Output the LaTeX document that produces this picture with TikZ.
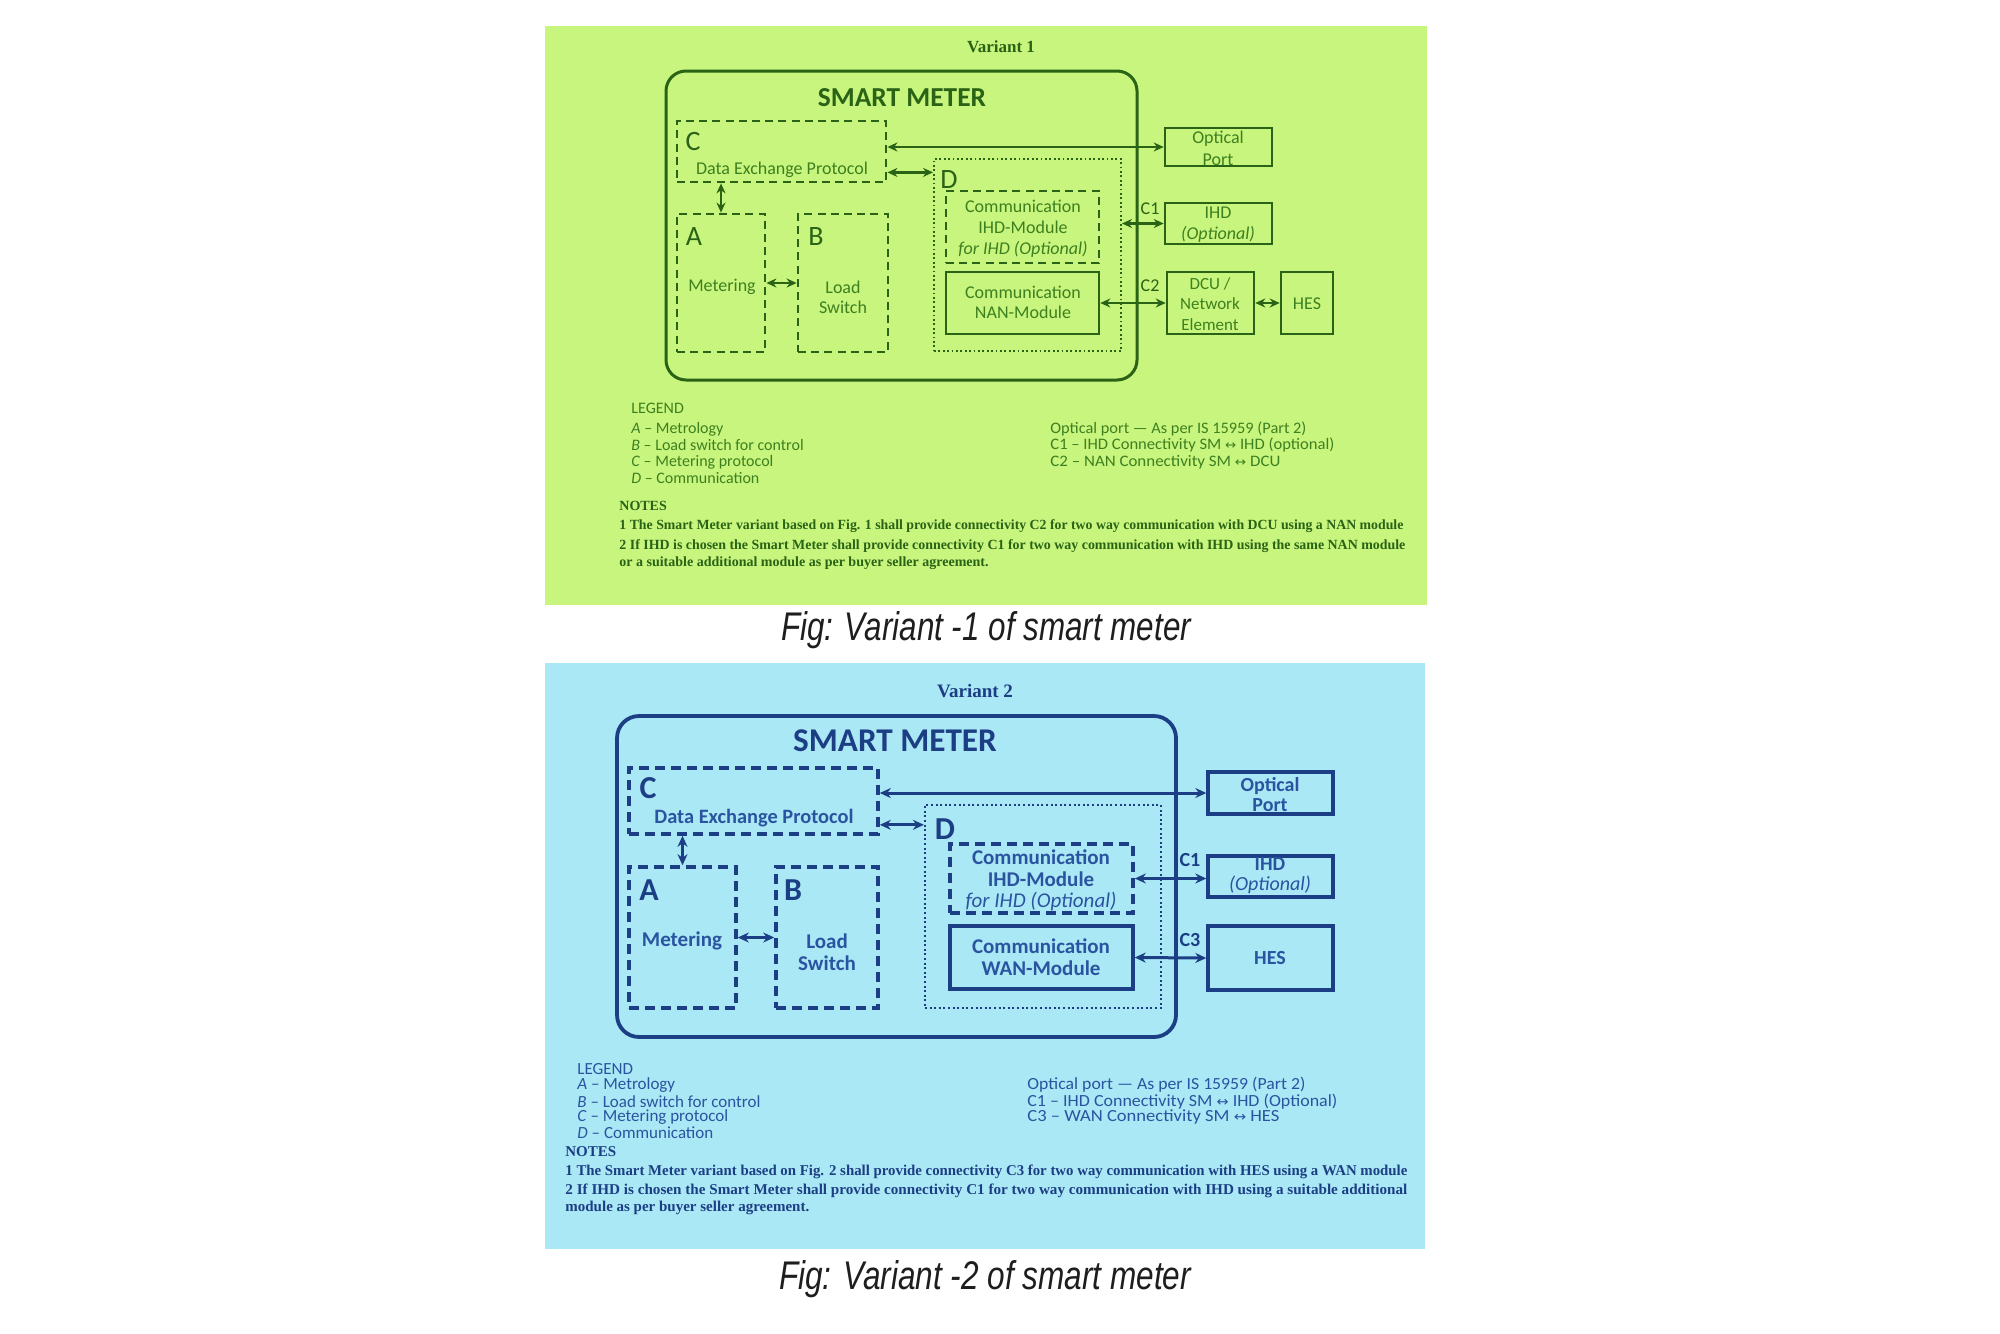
\documentclass[tikz,border=0pt]{standalone}
\usepackage{fontspec}
\usepackage{graphicx}
\setmainfont{Carlito}
\newfontfamily\serifnote{Liberation Serif}
\newfontfamily\capfont{Liberation Sans}
\newfontfamily\djv{DejaVu Sans}
\usetikzlibrary{arrows.meta,fit,calc}
\newcommand{\fw}[2]{\resizebox{#1}{\height}{#2}}
\newcommand{\lra}{{\djv\scalebox{0.8}{↔}}}
\definecolor{gbg}{RGB}{199,245,125}
\definecolor{gline}{RGB}{42,98,22}
\definecolor{gtxt}{RGB}{62,128,32}
\definecolor{bbg}{RGB}{170,232,246}
\definecolor{bline}{RGB}{28,62,132}
\definecolor{btxt}{RGB}{42,84,160}
\definecolor{capc}{RGB}{30,30,30}
\tikzset{
  lbl/.style={inner sep=0pt, anchor=center},
  lgd/.style={inner sep=0pt, anchor=west},
  outerbox1/.style={draw, line width=1.5pt, rounded corners=10pt, inner sep=0pt},
  dashbox1/.style={draw, line width=1.4pt, dash pattern=on 4pt off 2.6pt, inner sep=0pt},
  dotbox1/.style={draw, line width=1pt, dash pattern=on 0.9pt off 1.3pt, inner sep=0pt},
  solidbox1/.style={draw, line width=1.3pt, inner sep=0pt},
  conn1/.style={{Stealth[length=5pt,width=4.5pt]}-{Stealth[length=5pt,width=4.5pt]}, line width=1.25pt},
  outerbox2/.style={draw, line width=1.9pt, rounded corners=11pt, inner sep=0pt},
  dashbox2/.style={draw, line width=1.8pt, dash pattern=on 5pt off 3pt, inner sep=0pt},
  dotbox2/.style={draw, line width=1.1pt, dash pattern=on 1pt off 1.3pt, inner sep=0pt},
  solidbox2/.style={draw, line width=1.7pt, inner sep=0pt},
  conn2/.style={{Stealth[length=5.5pt,width=5pt]}-{Stealth[length=5.5pt,width=5pt]}, line width=1.5pt},
  captext/.style={inner sep=0pt, text=capc, font=\capfont\itshape\fontsize{20}{20}\selectfont},
}
\begin{document}
\begin{tikzpicture}[x=0.5pt,y=-0.5pt]
\useasboundingbox (0,0) rectangle (2000,1333);
\fill[white] (0,0) rectangle (2000,1333);

%% ================= VARIANT 1 =================
\fill[gbg] (545,26) rectangle (1427,605);
\begin{scope}[color=gline]
\node[lbl, font=\serifnote\bfseries\fontsize{8.5}{9}\selectfont] (T1) at (1001,47) {Variant 1};
\node[outerbox1, fit={(666,71) (1137,380)}] (SM1) {};
\node[lbl, font=\bfseries\fontsize{13.7}{14}\selectfont] (SMt1) at (902,98) {SMART METER};
% C
\node[dashbox1, fit={(677,121) (886,182)}] (C1) {};
\node[lbl, font=\fontsize{14}{14}\selectfont] (Cl1) at (693,142) {C};
\node[lbl, text=gtxt, font=\fontsize{9}{9}\selectfont] (Ct1) at (782,170) {Data Exchange Protocol};
% A
\node[dashbox1, fit={(677,214) (765,352)}] (A1) {};
\node[lbl, font=\fontsize{14}{14}\selectfont] (Al1) at (694,237) {A};
\node[lbl, text=gtxt, font=\fontsize{9}{9}\selectfont] (At1) at (722,287) {Metering};
% B
\node[dashbox1, fit={(798,214) (888,352)}] (B1) {};
\node[lbl, font=\fontsize{14}{14}\selectfont] (Bl1) at (816,237) {B};
\node[lbl, text=gtxt, align=center, font=\fontsize{9}{10}\selectfont] (Bt1) at (843,297) {Load\\Switch};
% D
\node[dotbox1, fit={(934,159) (1121,351)}] (D1) {};
\node[lbl, font=\fontsize{14}{14}\selectfont] (Dl1) at (949,180) {D};
\node[dashbox1, fit={(946,191) (1099,263)}] (IM1) {};
\node[lbl, text=gtxt, align=center, font=\fontsize{9}{10.5}\selectfont] (IMt1) at (1023,228.5) {Communication\\IHD-Module\\\textit{for IHD (Optional)}};
\node[solidbox1, fit={(946,272) (1099,334)}] (W1) {};
\node[lbl, text=gtxt, align=center, font=\fontsize{9}{10}\selectfont] (Wt1) at (1023,302) {Communication\\NAN-Module};
% external
\node[solidbox1, fit={(1165,128) (1272,166)}] (OP1) {};
\node[lbl, text=gtxt, align=center, font=\fontsize{9}{11}\selectfont] (OPt1) at (1218,148) {Optical\\Port};
\node[solidbox1, fit={(1165,203) (1272,244)}] (IH1) {};
\node[lbl, text=gtxt, align=center, font=\fontsize{9}{10.5}\selectfont] (IHt1) at (1218,224.5) {IHD\\\textit{(Optional)}};
\node[solidbox1, fit={(1167,272) (1254,334)}] (DC1) {};
\node[lbl, text=gtxt, align=center, font=\fontsize{8.5}{10.2}\selectfont] (DCt1) at (1210,304) {DCU /\\Network\\Element};
\node[solidbox1, fit={(1281,272) (1333,334)}] (HS1) {};
\node[lbl, text=gtxt, font=\fontsize{9}{9}\selectfont] (HSt1) at (1307,304) {HES};
\node[lbl, font=\fontsize{9}{9}\selectfont] (CL1a) at (1150,209) {C1};
\node[lbl, font=\fontsize{9}{9}\selectfont] (CL1b) at (1150,286) {C2};
% connectors
\draw[conn1] (OP1.west -| C1.east) -- (OP1.west);
\coordinate (cd1) at ($(C1.south east)+(0,-11)$);
\draw[conn1] (cd1) -- (cd1 -| D1.west);
\draw[conn1] (A1.north |- C1.south) -- (A1.north);
\draw[conn1] (A1.east) -- (B1.west);
\draw[conn1] (D1.east |- IH1.west) -- (IH1.west);
\draw[conn1] (W1.east) -- (DC1.west);
\draw[conn1] (DC1.east) -- (HS1.west);
% legend
\begin{scope}[text=gtxt, font=\fontsize{8}{8}\selectfont]
\node[lgd] (LG1) at (631,408) {LEGEND};
\node[lgd] (LG1a) at (631,429) {\textit{A} – Metrology};
\node[lgd] (LG1b) at (631,445) {\textit{B} – Load switch for control};
\node[lgd] (LG1c) at (631,462) {\textit{C} – Metering protocol};
\node[lgd] (LG1d) at (631,478) {\textit{D} – Communication};
\node[lgd] (LG1e) at (1050,429) {\fw{128pt}{Optical port — As per IS 15959 (Part 2)}};
\node[lgd] (LG1f) at (1050,445) {\fw{142pt}{C1 – IHD Connectivity SM \lra{} IHD (optional)}};
\node[lgd] (LG1g) at (1050,462) {\fw{115pt}{C2 – NAN Connectivity SM \lra{} DCU}};
\end{scope}
\begin{scope}[font=\serifnote\bfseries\fontsize{7}{8}\selectfont]
\node[lgd] (N1) at (619,506) {NOTES};
\node[lgd] (N1a) at (619,526) {\fw{392pt}{1 The Smart Meter variant based on Fig. 1 shall provide connectivity C2 for two way communication with DCU using a NAN module}};
\node[lgd] (N1b) at (619,546) {\fw{393pt}{2 If IHD is chosen the Smart Meter shall provide connectivity C1 for two way communication with IHD using the same NAN module}};
\node[lgd] (N1c) at (619,563) {or a suitable additional module as per buyer seller agreement.};
\end{scope}
\end{scope}
\node[captext] (F1) at (986,630) {\fw{205pt}{Fig: Variant -1 of smart meter}};

%% ================= VARIANT 2 =================
\fill[bbg] (545,663) rectangle (1425,1249);
\begin{scope}[color=bline]
\node[lbl, font=\serifnote\bfseries\fontsize{9.5}{10}\selectfont] (T2) at (975,691) {Variant 2};
\node[outerbox2, fit={(617,716) (1176,1037)}] (SM2) {};
\node[lbl, font=\bfseries\fontsize{16.6}{17}\selectfont] (SMt2) at (895,741) {SMART METER};
% C
\node[dashbox2, fit={(629,768) (878,834)}] (C2) {};
\node[lbl, font=\bfseries\fontsize{16}{16}\selectfont] (Cl2) at (648,788) {C};
\node[lbl, text=btxt, font=\bfseries\fontsize{10.2}{10}\selectfont] (Ct2) at (754,818) {Data Exchange Protocol};
% A
\node[dashbox2, fit={(629,867) (736,1008)}] (A2) {};
\node[lbl, font=\bfseries\fontsize{16}{16}\selectfont] (Al2) at (649,890) {A};
\node[lbl, text=btxt, font=\bfseries\fontsize{10.5}{10}\selectfont] (At2) at (682,941) {Metering};
% B
\node[dashbox2, fit={(776,867) (878,1008)}] (B2) {};
\node[lbl, font=\bfseries\fontsize{16}{16}\selectfont] (Bl2) at (793,890) {B};
\node[lbl, text=btxt, align=center, font=\bfseries\fontsize{10.5}{11}\selectfont] (Bt2) at (827,952) {Load\\Switch};
% D
\node[dotbox2, fit={(925,805) (1161,1008)}] (D2) {};
\node[lbl, font=\bfseries\fontsize{16}{16}\selectfont] (Dl2) at (945,829) {D};
\node[dashbox2, fit={(950,844) (1133,913)}] (IM2) {};
\node[lbl, text=btxt, align=center, font=\bfseries\fontsize{10.5}{10.7}\selectfont] (IMt2) at (1041,880.5) {Communication\\IHD-Module\\\textit{\mdseries for IHD (Optional)}};
\node[solidbox2, fit={(950,926) (1133,989)}] (W2) {};
\node[lbl, text=btxt, align=center, font=\bfseries\fontsize{10.5}{11}\selectfont] (Wt2) at (1041,957) {Communication\\WAN-Module};
% external
\node[solidbox2, fit={(1208,772) (1333,814)}] (OP2) {};
\node[lbl, text=btxt, align=center, font=\bfseries\fontsize{10}{10}\selectfont] (OPt2) at (1270,795) {Optical\\Port};
\node[solidbox2, fit={(1208,856) (1333,897)}] (IH2) {};
\node[lbl, text=btxt, align=center, font=\bfseries\fontsize{10}{10}\selectfont] (IHt2) at (1270,876) {IHD\\\textit{\mdseries(Optional)}};
\node[solidbox2, fit={(1208,926) (1333,990)}] (HS2) {};
\node[lbl, text=btxt, font=\bfseries\fontsize{10}{10}\selectfont] (HSt2) at (1270,958) {HES};
\node[lbl, font=\bfseries\fontsize{10}{10}\selectfont] (CL2a) at (1190,860) {C1};
\node[lbl, font=\bfseries\fontsize{10}{10}\selectfont] (CL2b) at (1190,940) {C3};
% connectors
\draw[conn2] (OP2.west -| C2.east) -- (OP2.west);
\coordinate (cd2) at ($(C2.south east)+(0,-11)$);
\draw[conn2] (cd2) -- (cd2 -| D2.west);
\draw[conn2] (A2.north |- C2.south) -- (A2.north);
\draw[conn2] (A2.east) -- (B2.west);
\draw[conn2] (IM2.east) -- (IM2.east -| IH2.west);
\draw[conn2] (W2.east) -- (HS2.west);
% legend
\begin{scope}[text=btxt, font=\fontsize{8.5}{8.5}\selectfont]
\node[lgd] (LG2) at (577,1069) {LEGEND};
\node[lgd] (LG2a) at (577,1085) {\textit{A} – Metrology};
\node[lgd] (LG2b) at (577,1102) {\textit{B} – Load switch for control};
\node[lgd] (LG2c) at (577,1117) {\textit{C} – Metering protocol};
\node[lgd] (LG2d) at (577,1133) {\textit{D} – Communication};
\node[lgd] (LG2e) at (1027,1085) {\fw{139pt}{Optical port — As per IS 15959 (Part 2)}};
\node[lgd] (LG2f) at (1027,1102) {\fw{155pt}{C1 – IHD Connectivity SM \lra{} IHD (Optional)}};
\node[lgd] (LG2g) at (1027,1117) {\fw{126pt}{C3 – WAN Connectivity SM \lra{} HES}};
\end{scope}
\begin{scope}[font=\serifnote\bfseries\fontsize{7.5}{8}\selectfont]
\node[lgd] (N2) at (565,1152) {NOTES};
\node[lgd] (N2a) at (565,1172) {\fw{421pt}{1 The Smart Meter variant based on Fig. 2 shall provide connectivity C3 for two way communication with HES using a WAN module}};
\node[lgd] (N2b) at (565,1191) {\fw{421pt}{2 If IHD is chosen the Smart Meter shall provide connectivity C1 for two way communication with IHD using a suitable additional}};
\node[lgd] (N2c) at (565,1208) {module as per buyer seller agreement.};
\end{scope}
\end{scope}
\node[captext] (F2) at (985,1279) {\fw{206pt}{Fig: Variant -2 of smart meter}};
\end{tikzpicture}
\end{document}
